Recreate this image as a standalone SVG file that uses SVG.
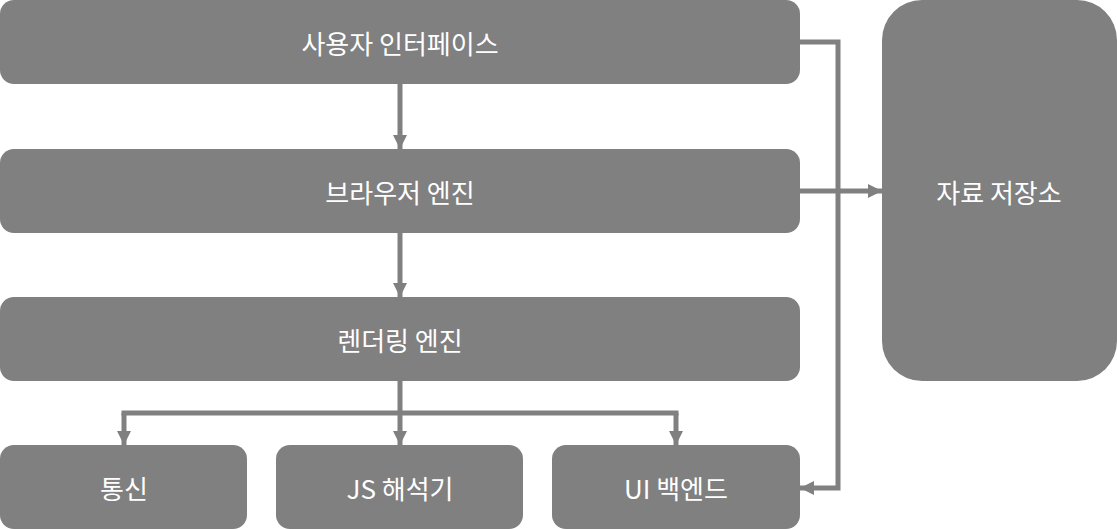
<svg xmlns="http://www.w3.org/2000/svg" width="1117" height="529" viewBox="0 0 1117 529">
<style>
.n{fill:#808080}
.t{fill:#fff;font-family:"Noto Sans CJK KR","Noto Sans",sans-serif;font-size:26px;text-anchor:middle;dominant-baseline:central}
.c{stroke:#808080;stroke-width:5;fill:none;marker-end:url(#a)}
.l{stroke:#808080;stroke-width:5;fill:none}
</style>
<defs><marker id="a" markerUnits="userSpaceOnUse" markerWidth="16" markerHeight="16" refX="14" refY="7" orient="auto"><path d="M0,0L14,7L0,14z" fill="#808080"/></marker></defs>
<g id="ui"><rect class="n" x="0" y="0" width="800" height="84" rx="14"/><text class="t" x="400" y="42">사용자 인터페이스</text></g>
<g id="browser"><rect class="n" x="0" y="149" width="800" height="84" rx="14"/><text class="t" x="400" y="191">브라우저 엔진</text></g>
<g id="render"><rect class="n" x="0" y="297" width="800" height="84" rx="14"/><text class="t" x="400" y="339">렌더링 엔진</text></g>
<g id="net"><rect class="n" x="0" y="445" width="247" height="84" rx="14"/><text class="t" x="124" y="487">통신</text></g>
<g id="js"><rect class="n" x="276" y="445" width="247" height="84" rx="14"/><text class="t" x="400" y="487">JS 해석기</text></g>
<g id="uib"><rect class="n" x="552" y="445" width="248" height="84" rx="14"/><text class="t" x="676" y="487">UI 백엔드</text></g>
<g id="store"><rect class="n" x="882" y="0" width="235" height="381" rx="40"/><text class="t" x="999" y="191">자료 저장소</text></g>
<g id="connectors">
<path class="c" d="M400,84V149"/>
<path class="c" d="M400,233V297"/>
<path class="l" d="M400,381V413"/>
<path class="c" d="M400,411V445"/>
<path class="c" d="M124,413V445"/>
<path class="c" d="M676,413V445"/>
<path class="l" d="M121.5,413H678.5"/>
<path class="c" d="M800,42H838V488H800"/>
<path class="c" d="M800,191H882"/>
</g>
</svg>
